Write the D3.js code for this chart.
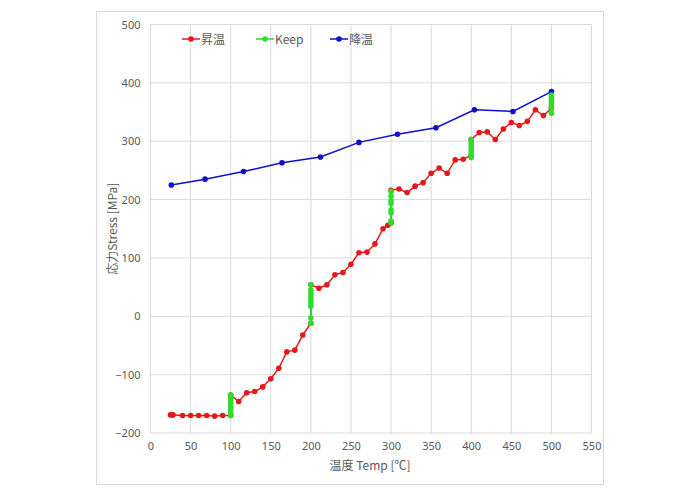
<!DOCTYPE html>
<html><head><meta charset="utf-8">
<script src="https://cdn.jsdelivr.net/npm/d3@7"></script>
<style>body{margin:0;background:#fff;}svg{display:block;font-family:"Noto Sans CJK JP","Noto Sans",sans-serif;}</style>
</head><body>
<svg id="c" width="700" height="496"></svg>
<script>
const xTicks = [0,50,100,150,200,250,300,350,400,450,500,550];
const yTicks = [-200,-100,0,100,200,300,400,500];
const seriesNames = ["昇温","Keep","降温"];
// 昇温 (heating)
const heatX = [25,28,40,50,60,70,80,90,100, 100,110,120,130,140,150,160,170,180,190,200, 200,210,220,230,240,250,260,270,280,290,296,300, 300,310,320,330,340,350,360,370,380,390,400, 400,410,420,430,440,450,460,470,480,490,500];
const heatY = [-169,-169,-170,-170,-170,-170,-171,-170,-170, -135,-146,-131,-129,-121,-107,-89,-61,-58,-32,-12, 54,48,54,71,75,89,109,110,124,150,156,160, 216,218,212,223,229,245,254,245,268,269,276, 303,315,316,303,321,332,327,334,354,344,356];
// Keep (holding) groups
const keepX = [100,100,100,100,100,100,100,100, 200,200,200,200,200,200,200,200,200, 300,300,300,300,300,300,300,300, 400,400,400,400,400,400,400,400, 500,500,500,500,500,500,500];
const keepY = [-170,-165,-160,-155,-150,-145,-140,-135, -12,-3,17,23,28,34,39,45,54, 160,163,177,182,193,198,206,214, 272,276,278,283,288,293,298,303, 348,356,360,365,370,375,379];
const keepGroup = [1,1,1,1,1,1,1,1, 2,2,2,2,2,2,2,2,2, 3,3,3,3,3,3,3,3, 4,4,4,4,4,4,4,4, 5,5,5,5,5,5,5];
// 降温 (cooling)
const coolX = [26,68,116,164,212,260,308,356,404,452,500];
const coolY = [225,235,248,263,273,298,312,323,354,351,385];

const colors = ["#e3191c","#2fdc2f","#1010c8"];
const svg = d3.select("#c");
svg.append("rect").attr("x",96.5).attr("y",11.5).attr("width",507).attr("height",473)
  .attr("fill","#fff").attr("stroke","#d9d9d9");

const L=150.5, R=591.5, T=24.5, B=433;
const x = d3.scaleLinear().domain([0,550]).range([L,R]);
const y = d3.scaleLinear().domain([-200,500]).range([B,T]);

const g = svg.append("g");
g.selectAll(".gx").data(xTicks).join("line").attr("x1",d=>x(d)).attr("x2",d=>x(d))
  .attr("y1",T).attr("y2",B).attr("stroke","#d9d9d9").attr("stroke-width",1);
g.selectAll(".gy").data(yTicks).join("line").attr("y1",d=>y(d)).attr("y2",d=>y(d))
  .attr("x1",L).attr("x2",R).attr("stroke","#d9d9d9").attr("stroke-width",1);

const xAxis = svg.append("g").attr("transform",`translate(0,${B})`)
  .call(d3.axisBottom(x).tickValues(xTicks).tickSize(0).tickPadding(9));
const yAxis = svg.append("g").attr("transform",`translate(${L},0)`)
  .call(d3.axisLeft(y).tickValues(yTicks).tickSize(0).tickPadding(10));
[xAxis,yAxis].forEach(a=>{a.select(".domain").remove();
  a.selectAll("text").attr("fill","#595959").style("font-size","11px")
   .style("font-family","'Noto Sans','Open Sans',sans-serif");});

svg.append("text").attr("x",370).attr("y",470).attr("text-anchor","middle")
  .attr("fill","#595959").style("font-size","12px").text("温度 Temp [℃]");
svg.append("text").attr("transform",`translate(117,${(T+B)/2}) rotate(-90)`).attr("text-anchor","middle")
  .attr("fill","#595959").style("font-size","12px").text("応力Stress [MPa]");

const line = d3.line().x(d=>x(d[0])).y(d=>y(d[1]));
const heat = heatX.map((v,i)=>[v,heatY[i]]);
const cool = coolX.map((v,i)=>[v,coolY[i]]);
const keep = keepX.map((v,i)=>[v,keepY[i],keepGroup[i]]);

function drawSeries(data,color,groups){
  const gr = groups ? d3.groups(data,d=>d[2]).map(d=>d[1]) : [data];
  gr.forEach(arr=>{
    svg.append("path").datum(arr).attr("d",line).attr("fill","none")
      .attr("stroke",color).attr("stroke-width",1.5);
  });
  svg.append("g").selectAll("circle").data(data).join("circle")
    .attr("cx",d=>x(d[0])).attr("cy",d=>y(d[1])).attr("r",2.8).attr("fill",color);
}
drawSeries(cool,colors[2]);
drawSeries(heat,colors[0]);
drawSeries(keep,colors[1],true);

// legend
const lx=[182,256,330];
seriesNames.forEach((n,i)=>{
  const lg = svg.append("g").attr("transform",`translate(${lx[i]},39)`);
  lg.append("line").attr("x1",0).attr("x2",18).attr("stroke",colors[i]).attr("stroke-width",1.5);
  lg.append("circle").attr("cx",9).attr("r",2.8).attr("fill",colors[i]);
  lg.append("text").attr("x",19).attr("y",4.5).attr("fill","#595959").style("font-size","12px").text(n);
});
</script>
</body></html>
